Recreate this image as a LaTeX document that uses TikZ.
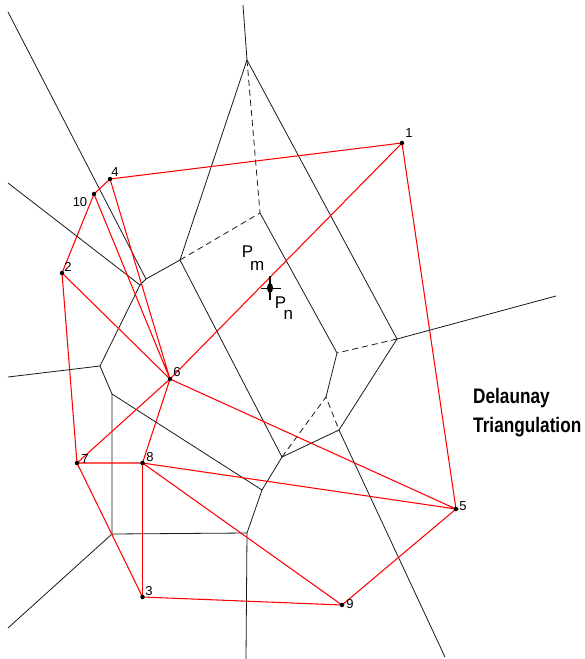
\documentclass[tikz,border=0pt]{standalone}
\usepackage{fontspec}
\setmainfont{Liberation Sans}
\begin{document}
\begin{tikzpicture}[x=1pt,y=-1pt,
  vor/.style={line width=0.8pt,black!90},
  vdash/.style={vor,dash pattern=on 6pt off 4pt},
  del/.style={line width=1.05pt,red},
  site/.style={circle,fill=black,inner sep=0pt,minimum size=4.5pt},
  num/.style={font=\fontsize{13}{13}\selectfont,inner sep=0pt},
  plab/.style={font=\fontsize{17}{17}\selectfont,inner sep=0pt},
  title/.style={font=\bfseries\fontsize{21}{21}\selectfont,inner sep=0pt,anchor=base west}]
\path[use as bounding box] (0,0) rectangle (585,659);
% Voronoi vertices
\coordinate (A) at (247,60);
\coordinate (E) at (260,213);
\coordinate (B) at (180,260);
\coordinate (C) at (397,339);
\coordinate (D) at (337,353);
\coordinate (F) at (326,397);
\coordinate (G) at (282,457);
\coordinate (H) at (339,430);
\coordinate (I) at (262,490);
\coordinate (K1) at (146,279);
\coordinate (K2) at (140,285);
\coordinate (L) at (100,366);
\coordinate (M) at (112,394);
\coordinate (N) at (112,534);
\coordinate (P) at (247,533);
% infinite edge ends
\coordinate (tA) at (243,5);
\coordinate (tC) at (556,296);
\coordinate (tH) at (445,657);
\coordinate (tP) at (246,659);
\coordinate (tN) at (8,628);
\coordinate (tL) at (8,377);
\coordinate (tK2) at (8,183);
\coordinate (tK1) at (8,12);
% Voronoi edges
\draw[vor] (tA) -- (A) -- (B);
\draw[vor] (A) -- (C) -- (tC);
\draw[vdash] (A) -- (E) -- (B);
\draw[vor] (E) -- (D) -- (F);
\draw[vdash] (C) -- (D);
\draw[vdash] (G) -- (F) -- (H);
\draw[vor] (C) -- (H) -- (tH);
\draw[vor] (B) -- (G) -- (H);
\draw[vor] (G) -- (I) -- (P) -- (tP);
\draw[vor] (B) -- (K1) -- (K2) -- (L) -- (M) -- (N) -- (tN);
\draw[vor] (tK1) -- (K1);
\draw[vor] (tK2) -- (K2);
\draw[vor] (tL) -- (L);
\draw[vor] (M) -- (I);
\draw[vor] (N) -- (P);
% sites
\coordinate (s1) at (402,143);
\coordinate (s4) at (110,179);
\coordinate (s10) at (94,194);
\coordinate (s2) at (62,273);
\coordinate (s6) at (170,379);
\coordinate (s7) at (77,463);
\coordinate (s8) at (142.5,463);
\coordinate (s3) at (142.5,597);
\coordinate (s9) at (342,605);
\coordinate (s5) at (456,509);
% Delaunay edges
\draw[del] (s1) -- (s4) -- (s10) -- (s2) -- (s7) -- (s3) -- (s9) -- (s5) -- (s1);
\draw[del] (s1) -- (s6) -- (s7) -- (s8) -- (s5) -- (s6);
\draw[del] (s10) -- (s6) -- (s4);
\draw[del] (s2) -- (s6) -- (s8) -- (s9);
\draw[del] (s8) -- (s3);
% site dots
\foreach \s in {1,4,10,2,6,7,8,3,9,5}
  \node[site] (d\s) at (s\s) {};
% site labels
\node[num] (l1) at (409,133) {1};
\node[num] (l4) at (115,172) {4};
\node[num] (l10) at (80,202) {10};
\node[num] (l2) at (68,267) {2};
\node[num] (l6) at (177,372) {6};
\node[num] (l7) at (85,459) {7};
\node[num] (l8) at (150,457) {8};
\node[num] (l3) at (149,591) {3};
\node[num] (l9) at (350,604) {9};
\node[num] (l5) at (463,506) {5};
% Pm / Pn
\coordinate (pn) at (270,288);
\draw[line width=2.2pt] (270,276) -- (270,300);
\draw[line width=1pt] (261,288) -- (281,288);
\fill (pn) ellipse (3pt and 5pt);
\node[plab] (pmlab) at (253,258) {P\kern-3pt\raisebox{-13pt}{m}};
\node[plab] (pnlab) at (284,308) {P\kern-2.5pt\raisebox{-11pt}{n}};
% title
\node[title] (t1) at (473,403) {\scalebox{0.82}[1]{Delaunay}};
\node[title] (t2) at (473,432) {\scalebox{0.82}[1]{Triangulation}};
\end{tikzpicture}
\end{document}
